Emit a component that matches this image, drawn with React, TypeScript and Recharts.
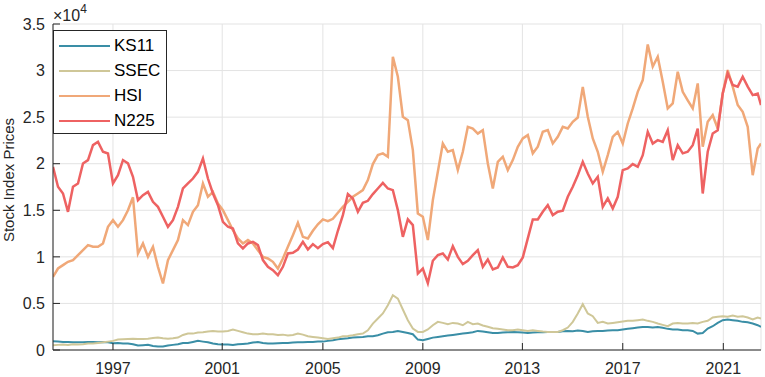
import { LineChart, Line, XAxis, YAxis, CartesianGrid, Legend } from 'recharts'

const FONT = '"Liberation Sans", Arial, Helvetica, sans-serif'
const AXIS = '#262626'

const seriesNames = ['KS11', 'SSEC', 'HSI', 'N225']
const seriesColors = ['#3a8ea6', '#cfc798', '#f0a878', '#ee6262']
const seriesWidths = [2, 2, 2.5, 2.5]

// observation index (trading days, sampled) and where each year label sits
const obs = Array.from({ length: 142 }, (_, i) => i * 50).concat(7083)
const tickObs = [600, 1693, 2700, 3700, 4696, 5700, 6706]
const tickYears = ['1997', '2001', '2005', '2009', '2013', '2017', '2021']
const yTicks = [0, 5000, 10000, 15000, 20000, 25000, 30000, 35000]

const ks11 = [
  940, 900, 870, 870, 830, 830, 830, 870, 870, 830,
  870, 830, 720, 760, 690, 690, 620, 480, 510, 550,
  440, 370, 370, 480, 550, 620, 760, 760, 870, 980,
  900, 830, 690, 620, 580, 580, 550, 620, 650, 690,
  800, 870, 760, 690, 690, 720, 760, 760, 800, 830,
  830, 870, 870, 900, 900, 980, 1050, 1150, 1220, 1260,
  1330, 1370, 1400, 1480, 1480, 1580, 1760, 1900, 1940, 2050,
  1940, 1830, 1690, 1120, 1050, 1190, 1330, 1400, 1480, 1550,
  1620, 1690, 1760, 1830, 1900, 2050, 1980, 1900, 1830, 1830,
  1870, 1900, 1940, 1900, 1870, 1830, 1870, 1900, 1900, 1940,
  1940, 1940, 2010, 2050, 2010, 2090, 2050, 1940, 2010, 2050,
  2050, 2090, 2120, 2120, 2200, 2270, 2340, 2410, 2480, 2480,
  2410, 2480, 2380, 2270, 2200, 2200, 2120, 2120, 2050, 1760,
  1830, 2300, 2550, 2910, 3200, 3270, 3200, 3130, 3020, 2980,
  2840, 2660, 2480,
]

const ssec = [
  510, 550, 580, 550, 620, 580, 620, 690, 690, 760,
  830, 900, 980, 1120, 1150, 1190, 1220, 1190, 1190, 1220,
  1300, 1330, 1260, 1220, 1260, 1330, 1620, 1760, 1760, 1870,
  1910, 1980, 2050, 1980, 1980, 2050, 2200, 2050, 1910, 1760,
  1690, 1690, 1760, 1690, 1690, 1620, 1650, 1550, 1620, 1760,
  1650, 1480, 1400, 1330, 1260, 1190, 1260, 1330, 1480, 1510,
  1580, 1690, 1760, 2120, 2840, 3380, 3920, 4810, 5880, 5520,
  4350, 3200, 2300, 1940, 1940, 2200, 2660, 3020, 2910, 2770,
  2910, 2840, 2660, 3020, 2770, 2840, 2630, 2490, 2340, 2270,
  2200, 2120, 2120, 2200, 2120, 2050, 2120, 2050, 1980, 1940,
  1940, 1940, 2120, 2410, 3020, 3920, 4920, 3920, 3630, 2910,
  3020, 2840, 2910, 2980, 3050, 3130, 3130, 3200, 3270, 3130,
  3020, 2840, 2700, 2560, 2840, 2910, 2840, 2840, 2910, 2840,
  3020, 3130, 3490, 3560, 3630, 3560, 3700, 3560, 3630, 3490,
  3270, 3490, 3380,
]

const hsi = [
  7850, 8750, 9110, 9470, 9650, 10180, 10720, 11260, 11080, 11080,
  11440, 13230, 13940, 13230, 13940, 15010, 16400, 10360, 11440, 10000,
  11080, 8930, 7140, 9650, 10720, 11800, 13940, 13410, 14830, 15550,
  17880, 16450, 16980, 15730, 15010, 13940, 12860, 11970, 11440, 11800,
  11440, 10720, 10000, 9830, 9470, 8750, 9830, 11080, 12330, 13660,
  12150, 11970, 12800, 13500, 14020, 13840, 14090, 14730, 15370, 15910,
  16450, 16810, 17170, 18240, 19960, 20930, 21110, 20750, 31480, 29330,
  25040, 24680, 21460, 14660, 14300, 11800, 16090, 19130, 22170, 21280,
  21460, 19310, 21280, 23960, 23780, 23240, 23600, 20030, 17340, 20190,
  20750, 19310, 20390, 21820, 22710, 23070, 21110, 21820, 23420, 23600,
  22170, 22890, 23960, 23780, 24500, 24960, 28250, 25040, 22710, 21280,
  19130, 20930, 22890, 23420, 22170, 24320, 25940, 27720, 28980, 32800,
  30420, 31490, 28800, 25940, 26480, 29880, 27720, 26810, 25940, 28620,
  21820, 24500, 25210, 23780, 27540, 30060, 28270, 26300, 25570, 23960,
  18770, 21640, 22170,
]

const n225 = [
  19660, 17520, 16800, 14830, 17520, 17880, 20030, 20390, 22000, 22350,
  21280, 21100, 17880, 18770, 20390, 20030, 18600, 16090, 16630, 16980,
  15910, 15370, 14300, 13230, 13940, 15370, 17340, 17880, 18410, 19130,
  20560, 18410, 16800, 15550, 13760, 13230, 13050, 11440, 10900, 11440,
  11620, 11260, 9650, 8930, 8570, 8030, 8930, 10360, 10430, 10790,
  11620, 10790, 11370, 10940, 11370, 11580, 10940, 12800, 14480, 16740,
  16270, 14840, 15800, 16020, 16740, 17340, 17950, 17340, 17160, 15020,
  12150, 14020, 13410, 8210, 8750, 7170, 9580, 10180, 10360, 9720,
  11150, 10000, 9220, 9580, 10180, 10720, 8930, 9720, 8640, 8860,
  9940, 8930, 8860, 9100, 9940, 11980, 14020, 14020, 14840, 15550,
  14480, 14840, 14950, 16450, 17520, 18770, 20200, 18950, 17880, 18600,
  15370, 16270, 15200, 16450, 19310, 19490, 19960, 19670, 20910, 23420,
  22170, 22530, 22350, 23600, 20390, 21990, 21110, 21280, 21990, 23780,
  16800, 21280, 23240, 23600, 27540, 29700, 28450, 28270, 29340, 28270,
  27370, 27540, 26300,
]

const seriesValues = [ks11, ssec, hsi, n225]

const data = obs.map((t, i) => {
  const row: Record<string, number> = { t }
  seriesNames.forEach((name, s) => {
    row[name] = seriesValues[s][i]
  })
  return row
})

const yearLabel = (v: number) => {
  const i = tickObs.indexOf(v)
  return i >= 0 ? tickYears[i] : ''
}

const renderLegend = () => (
  <div
    style={{
      border: `1px solid ${AXIS}`,
      background: '#fff',
      width: 114,
      height: 104,
      boxSizing: 'border-box',
      paddingTop: 2,
      fontFamily: FONT,
      fontSize: 17,
      color: '#000',
    }}
  >
    {seriesNames.map((name, i) => (
      <div key={name} style={{ display: 'flex', alignItems: 'center', height: 25 }}>
        <div style={{ width: 51, height: 2, background: seriesColors[i], marginLeft: 5, marginRight: 4 }} />
        <span style={{ lineHeight: '25px' }}>{name}</span>
      </div>
    ))}
  </div>
)

const tickStyle = { fontSize: 16, fill: AXIS, fontFamily: FONT }

export default function App() {
  return (
    <div style={{ position: 'absolute', left: 0, top: 0, width: 765, height: 377, background: '#fff' }}>
      <LineChart width={765} height={377} data={data} margin={{ top: 24, right: 4, bottom: 0, left: 0 }}>
        <CartesianGrid stroke="#e3e3e3" strokeWidth={1} />
        <XAxis
          dataKey="t"
          type="number"
          domain={[0, 7083]}
          ticks={tickObs}
          interval={0}
          tickFormatter={yearLabel}
          height={27}
          tickSize={-7}
          tickMargin={20}
          stroke={AXIS}
          tick={tickStyle}
          allowDataOverflow
        />
        <XAxis
          xAxisId="top"
          orientation="top"
          dataKey="t"
          type="number"
          domain={[0, 7083]}
          ticks={tickObs}
          interval={0}
          tickFormatter={() => ''}
          height={0}
          tickSize={-7}
          stroke={AXIS}
          allowDataOverflow
        />
        <YAxis
          type="number"
          domain={[0, 35000]}
          ticks={yTicks}
          interval={0}
          tickFormatter={(v: number) => String(v / 10000)}
          width={53}
          tickSize={-7}
          tickMargin={15}
          stroke={AXIS}
          tick={tickStyle}
          allowDataOverflow
        />
        <YAxis
          yAxisId="right"
          orientation="right"
          type="number"
          domain={[0, 35000]}
          ticks={yTicks}
          interval={0}
          tickFormatter={() => ''}
          width={0}
          tickSize={-7}
          stroke={AXIS}
          allowDataOverflow
        />
        {seriesNames.map((name, i) => (
          <Line
            key={name}
            dataKey={name}
            type="linear"
            stroke={seriesColors[i]}
            strokeWidth={seriesWidths[i]}
            strokeLinejoin="miter"
            dot={false}
            isAnimationActive={false}
          />
        ))}
        <Legend
          content={renderLegend}
          layout="vertical"
          align="center"
          verticalAlign="middle"
          wrapperStyle={{ position: 'absolute', left: 53, top: 30, width: 114, height: 104 }}
        />
      </LineChart>
      <svg
        width={765}
        height={377}
        style={{ position: 'absolute', left: 0, top: 0, pointerEvents: 'none' }}
      >
        <text
          transform="translate(14, 180) rotate(-90)"
          textAnchor="middle"
          fontFamily={FONT}
          fontSize={15}
          fill={AXIS}
        >
          Stock Index Prices
        </text>
        <text x={53} y={21} fontFamily={FONT} fontSize={16} fill={AXIS}>
          ×10
          <tspan dy={-8} fontSize={12}>4</tspan>
        </text>
      </svg>
    </div>
  )
}
